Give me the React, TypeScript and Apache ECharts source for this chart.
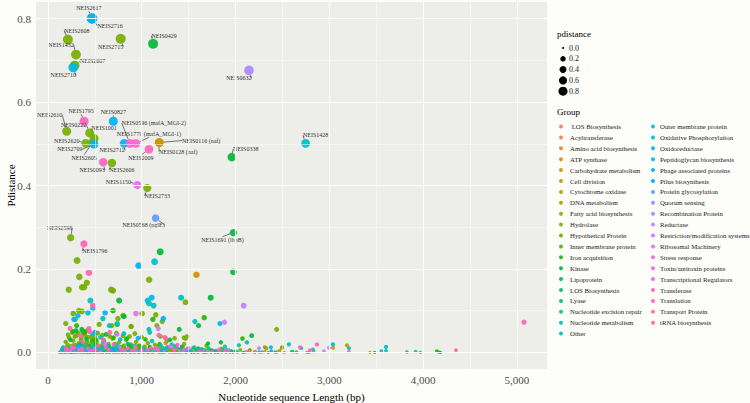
import React, { useEffect, useRef } from "react";
import * as echarts from "echarts";

// ---------- data ----------
const groups: string[] = [
  " LOS Biosynthesis", "Acyltransferase", "Amino acid biosynthesis", "ATP synthase",
  "Carbohydrate metabolism", "Cell division", "Cytochrome oxidase", "DNA metabolism",
  "Fatty acid biosynthesis", "Hydrolase", "Hypothetical Protein", "Inner membrane protein",
  "Iron acquisition", "Kinase", "Lipoprotein", "LOS Biosynthesis", "Lyase",
  "Nucleotide excision repair", "Nucleotide metabolism", "Other",
  "Outer membrane protein", "Oxidative Phosphorylation", "Oxidoreductase",
  "Peptidoglycan biosynthesis", "Phage associated proteins", "Pilus biosynthesis",
  "Protein glycosylation", "Quorum sensing", "Recombination Protein", "Reductase",
  "Restriction/modification systems", "Ribosomal Machinery", "Stress response",
  "Toxin/antitoxin proteins", "Transcriptional Regulators", "Transferase", "Translation",
  "Transport Protein", "tRNA biosynthesis",
];

const xTicks = [0, 1000, 2000, 3000, 4000, 5000];
const xMinor = [500, 1500, 2500, 3500, 4500];
const yTicks = [0, 0.2, 0.4, 0.6, 0.8];
const yMinor = [0.1, 0.3, 0.5, 0.7];
const sizeLegendValues = ["0.0", "0.2", "0.4", "0.6", "0.8"];

// [label, group, length, pdistance]
const labeledPoints: [string, number, number, number][] = [
  ["NEIS2716", 23, 471, 0.8],
  ["NEIS2617", 23, 469, 0.801],
  ["NEIS2608", 10, 213, 0.75],
  ["NEIS1432", 10, 299, 0.714],
  ["NEIS2607", 10, 285, 0.688],
  ["NEIS2710", 22, 270, 0.683],
  ["NEIS2715", 10, 776, 0.752],
  ["NEIS0429", 13, 1121, 0.74],
  ["NEIS0632", 28, 2143, 0.676],
  ["NEIS1795", 35, 386, 0.554],
  ["NEIS0827", 23, 697, 0.554],
  ["NEIS2610", 10, 200, 0.53],
  ["NEIS0222", 10, 445, 0.526],
  ["NEIS1001", 10, 493, 0.513],
  ["NEIS2620", 10, 403, 0.501],
  ["NEIS2605", 10, 482, 0.505],
  ["NEIS2709", 23, 490, 0.499],
  ["NEIS2712", 23, 813, 0.501],
  ["NEIS0596 (mafA_MGI-2)", 34, 874, 0.501],
  ["NEIS1779 (mafA_MGI-1)", 34, 938, 0.501],
  ["NEIS0116 (naf)", 5, 1186, 0.503],
  ["NEIS0128 (naf)", 5, 1187, 0.503],
  ["NEIS2009", 35, 1077, 0.487],
  ["NEIS0093", 35, 589, 0.456],
  ["NEIS2606", 10, 682, 0.454],
  ["NEIS1428", 20, 2747, 0.501],
  ["NEIS0338", 13, 1960, 0.468],
  ["NEIS1150", 31, 954, 0.401],
  ["NEIS2733", 10, 1059, 0.394],
  ["NEIS0568 (pglE)", 26, 1148, 0.322],
  ["NEIS1691 (lbpB)", 13, 1977, 0.287],
  ["NEIS2598", 10, 242, 0.275],
  ["NEIS1796", 35, 384, 0.26],
];

// [group, length, pdistance] – unlabelled points above the dense band
const midPoints: [number, number, number][] = [
  [10, 311, 0.22], [13, 1197, 0.241], [24, 967, 0.208], [20, 1137, 0.217], [4, 1583, 0.186],
  [13, 1977, 0.193], [36, 436, 0.191], [10, 335, 0.181], [10, 222, 0.15], [10, 364, 0.156],
  [10, 386, 0.156], [10, 415, 0.167], [10, 674, 0.15], [10, 694, 0.148], [10, 1079, 0.174],
  [13, 759, 0.124], [13, 1735, 0.131], [19, 453, 0.124], [20, 1063, 0.124], [22, 1106, 0.131],
  [19, 1078, 0.117], [19, 1127, 0.112], [19, 1420, 0.131], [10, 1467, 0.12], [29, 2087, 0.112],
  [36, 480, 0.112], [22, 480, 0.105], [10, 330, 0.1], [10, 364, 0.098], [12, 694, 0.1],
  [23, 610, 0.095], [10, 270, 0.093], [10, 290, 0.079], [22, 427, 0.095], [30, 938, 0.093],
  [10, 1004, 0.093], [10, 1150, 0.09], [19, 1567, 0.074], [22, 1834, 0.069], [30, 1882, 0.072],
  [12, 1666, 0.083], [13, 1606, 0.064], [10, 1219, 0.074], [24, 1230, 0.081], [12, 1119, 0.079],
  [10, 801, 0.088], [10, 889, 0.062], [30, 1176, 0.057], [13, 1400, 0.055], [10, 2438, 0.055],
  [13, 2172, 0.04], [10, 1450, 0.035], [10, 1467, 0.033], [12, 2074, 0.033], [36, 1255, 0.033],
  [19, 1085, 0.048], [10, 546, 0.067], [10, 190, 0.069], [36, 236, 0.057], [12, 306, 0.064],
  [19, 655, 0.064], [12, 738, 0.067], [19, 810, 0.045], [10, 927, 0.045], [36, 660, 0.048],
  [30, 738, 0.043], [22, 500, 0.048], [12, 394, 0.048], [22, 277, 0.079], [22, 320, 0.088],
  [19, 586, 0.081], [10, 682, 0.064], [10, 746, 0.081], [13, 810, 0.086], [19, 738, 0.069],
  [10, 885, 0.062], [19, 1077, 0.055], [10, 1162, 0.064], [36, 1183, 0.041], [36, 1247, 0.036],
  [10, 1482, 0.038], [10, 266, 0.05], [13, 362, 0.055], [10, 394, 0.05], [36, 437, 0.057],
  [10, 215, 0.042], [12, 262, 0.048], [10, 288, 0.038], [13, 300, 0.052], [10, 322, 0.046],
  [36, 345, 0.04], [10, 358, 0.034], [12, 372, 0.05], [10, 396, 0.041], [13, 410, 0.032],
  [10, 425, 0.053], [34, 448, 0.049], [10, 462, 0.037], [19, 475, 0.044], [10, 498, 0.039],
  [12, 515, 0.03], [10, 530, 0.046], [20, 560, 0.036], [10, 580, 0.041], [13, 620, 0.043],
  [10, 660, 0.038], [12, 700, 0.035], [10, 730, 0.046], [19, 770, 0.031], [10, 800, 0.04],
  [13, 840, 0.033], [10, 870, 0.038], [24, 960, 0.034], [10, 1000, 0.036], [12, 1040, 0.031],
  [10, 1200, 0.038], [13, 1300, 0.03], [10, 1350, 0.034], [36, 5075, 0.072],
];

// [group, length, pdistance] – dense band near zero
const bandPoints: [number, number, number][] = [
  [0, 233, 0.004], [0, 612, 0.002], [0, 1290, 0.008], [0, 1815, 0.001],
  [1, 540, 0.003], [1, 1120, 0.001], [1, 2310, 0.002],
  [2, 310, 0.006], [2, 865, 0.012], [2, 1255, 0.022], [2, 1702, 0.003], [2, 2105, 0.001],
  [3, 705, 0.004], [3, 1375, 0.002], [3, 2790, 0.001],
  [4, 455, 0.008], [4, 1010, 0.003], [4, 1640, 0.006], [4, 2330, 0.009], [4, 2835, 0.002], [4, 2760, 0.0],
  [5, 180, 0.002], [5, 950, 0.015], [5, 1535, 0.004], [5, 3040, 0.011], [5, 3188, 0.017], [5, 2440, 0.001],
  [6, 640, 0.005], [6, 1190, 0.009], [6, 2470, 0.004], [6, 3433, 0.0],
  [7, 285, 0.003], [7, 760, 0.001], [7, 1440, 0.013], [7, 1910, 0.002], [7, 2780, 0.0],
  [8, 390, 0.01], [8, 830, 0.007], [8, 1330, 0.003], [8, 2495, 0.012],
  [9, 210, 0.018], [9, 600, 0.004], [9, 1085, 0.011], [9, 1560, 0.001], [9, 2150, 0.005],
  [10, 140, 0.002], [10, 165, 0.01], [10, 190, 0.025], [10, 205, 0.005], [10, 225, 0.035],
  [10, 240, 0.015], [10, 255, 0.001], [10, 270, 0.028], [10, 280, 0.008], [10, 295, 0.018],
  [10, 305, 0.04], [10, 318, 0.004], [10, 330, 0.022], [10, 345, 0.012], [10, 352, 0.03],
  [10, 368, 0.002], [10, 380, 0.045], [10, 392, 0.016], [10, 405, 0.007], [10, 418, 0.026],
  [10, 430, 0.036], [10, 442, 0.01], [10, 455, 0.02], [10, 470, 0.003], [10, 488, 0.031],
  [10, 505, 0.012], [10, 520, 0.024], [10, 538, 0.006], [10, 556, 0.015], [10, 575, 0.002],
  [10, 598, 0.028], [10, 620, 0.01], [10, 645, 0.02], [10, 668, 0.004], [10, 690, 0.033],
  [10, 712, 0.013], [10, 735, 0.007], [10, 760, 0.024], [10, 785, 0.002], [10, 808, 0.016],
  [10, 835, 0.03], [10, 860, 0.006], [10, 885, 0.019], [10, 912, 0.003], [10, 940, 0.025],
  [10, 968, 0.01], [10, 995, 0.001], [10, 1030, 0.014], [10, 1065, 0.022], [10, 1100, 0.005],
  [10, 1140, 0.018], [10, 1180, 0.002], [10, 1225, 0.011], [10, 1268, 0.027], [10, 1310, 0.004],
  [10, 1355, 0.015], [10, 1400, 0.008], [10, 1452, 0.02], [10, 1505, 0.002], [10, 1560, 0.012],
  [10, 1620, 0.005], [10, 1690, 0.016], [10, 1760, 0.003], [10, 1850, 0.009], [10, 1940, 0.001],
  [10, 2050, 0.006], [10, 2210, 0.002], [10, 2650, 0.001], [10, 2153, 0.005], [10, 2313, 0.012],
  [10, 2495, 0.011],
  [11, 260, 0.012], [11, 520, 0.004], [11, 880, 0.009], [11, 1290, 0.002], [11, 1720, 0.007],
  [12, 200, 0.006], [12, 330, 0.017], [12, 470, 0.028], [12, 610, 0.003], [12, 780, 0.012],
  [12, 980, 0.005], [12, 1190, 0.02], [12, 1480, 0.002], [12, 1870, 0.006], [12, 4145, 0.003],
  [13, 240, 0.03], [13, 365, 0.008], [13, 500, 0.019], [13, 690, 0.002], [13, 905, 0.014],
  [13, 1160, 0.004], [13, 1340, 0.009], [13, 1706, 0.021], [13, 1844, 0.024], [13, 2600, 0.002],
  [13, 3483, 0.0], [13, 4165, 0.001], [13, 4185, 0.0],
  [14, 300, 0.002], [14, 580, 0.011], [14, 850, 0.02], [14, 1060, 0.001], [14, 1420, 0.006], [14, 2000, 0.003],
  [15, 410, 0.004], [15, 730, 0.009], [15, 1250, 0.003], [15, 1780, 0.001],
  [16, 350, 0.013], [16, 660, 0.001], [16, 1020, 0.007], [16, 1600, 0.01], [16, 2420, 0.001],
  [17, 230, 0.009], [17, 560, 0.003], [17, 920, 0.016], [17, 1380, 0.001], [17, 3827, 0.001],
  [18, 270, 0.001], [18, 480, 0.014], [18, 800, 0.005], [18, 1150, 0.01], [18, 1530, 0.002], [18, 2121, 0.024],
  [19, 150, 0.007], [19, 250, 0.002], [19, 380, 0.02], [19, 520, 0.009], [19, 650, 0.003],
  [19, 740, 0.018], [19, 870, 0.001], [19, 1000, 0.011], [19, 1110, 0.027], [19, 1230, 0.005],
  [19, 1365, 0.014], [19, 1490, 0.003], [19, 1640, 0.008], [19, 1887, 0.014], [19, 2036, 0.017],
  [19, 2377, 0.012], [19, 2569, 0.019], [19, 2700, 0.01], [19, 2825, 0.007], [19, 3038, 0.019],
  [19, 3209, 0.01], [19, 3554, 0.003], [19, 3604, 0.013], [19, 3604, 0.004], [19, 3920, 0.002], [19, 3970, 0.0],
  [20, 180, 0.004], [20, 320, 0.011], [20, 445, 0.001], [20, 590, 0.024], [20, 720, 0.006],
  [20, 955, 0.002], [20, 1205, 0.016], [20, 1470, 0.006], [20, 1950, 0.003], [20, 2250, 0.001],
  [21, 400, 0.006], [21, 970, 0.001], [21, 1600, 0.004],
  [22, 340, 0.005], [22, 630, 0.015], [22, 1040, 0.003], [22, 1320, 0.019], [22, 1800, 0.002],
  [23, 230, 0.001], [23, 560, 0.007], [23, 900, 0.002], [23, 1270, 0.012],
  [24, 170, 0.005], [24, 420, 0.013], [24, 760, 0.003], [24, 1090, 0.008], [24, 1680, 0.001],
  [25, 300, 0.002], [25, 690, 0.01], [25, 1210, 0.001], [25, 2380, 0.003],
  [26, 460, 0.004], [26, 1130, 0.002], [26, 1930, 0.005],
  [27, 820, 0.003], [27, 1560, 0.001],
  [28, 360, 0.009], [28, 990, 0.004], [28, 1700, 0.002], [28, 2250, 0.01],
  [29, 240, 0.003], [29, 770, 0.012], [29, 1450, 0.006], [29, 2942, 0.003], [29, 2996, 0.011],
  [30, 330, 0.006], [30, 610, 0.02], [30, 1180, 0.003], [30, 1500, 0.01], [30, 2120, 0.002],
  [31, 200, 0.001], [31, 500, 0.008], [31, 940, 0.002], [31, 1300, 0.014], [31, 1890, 0.004],
  [32, 440, 0.003], [32, 850, 0.01], [32, 1610, 0.002],
  [33, 280, 0.011], [33, 560, 0.001], [33, 1060, 0.006], [33, 1750, 0.002],
  [34, 190, 0.003], [34, 370, 0.025], [34, 650, 0.006], [34, 930, 0.013], [34, 1240, 0.002],
  [34, 1380, 0.018], [34, 2687, 0.012],
  [35, 250, 0.014], [35, 470, 0.004], [35, 700, 0.019], [35, 1010, 0.002], [35, 1340, 0.008],
  [35, 1830, 0.005], [35, 2793, 0.005], [35, 2868, 0.019],
  [36, 320, 0.002], [36, 590, 0.03], [36, 890, 0.004], [36, 1100, 0.01], [36, 1650, 0.001],
  [36, 3209, 0.002], [36, 4350, 0.005],
  [37, 210, 0.008], [37, 540, 0.016], [37, 820, 0.001], [37, 1170, 0.007], [37, 1920, 0.002],
  [38, 360, 0.001], [38, 780, 0.005], [38, 1400, 0.003], [38, 2200, 0.001],
  [19, 125, 0.0], [10, 132, 0.001], [35, 145, 0.0], [12, 158, 0.002], [20, 172, 0.0],
  [10, 185, 0.001], [36, 198, 0.0], [24, 215, 0.003], [10, 228, 0.0], [13, 246, 0.001],
  [19, 262, 0.0], [10, 276, 0.002], [34, 290, 0.0], [12, 305, 0.004], [22, 322, 0.0],
  [10, 338, 0.002], [20, 355, 0.0], [35, 372, 0.001], [10, 388, 0.0], [19, 402, 0.003],
  [13, 416, 0.0], [10, 432, 0.001], [24, 448, 0.0], [36, 462, 0.002], [10, 478, 0.0],
  [12, 494, 0.001], [19, 512, 0.0], [10, 530, 0.003], [34, 548, 0.0], [20, 566, 0.001],
  [10, 585, 0.0], [13, 604, 0.002], [35, 624, 0.0], [10, 642, 0.001], [19, 662, 0.0],
  [22, 682, 0.003], [10, 702, 0.0], [12, 722, 0.001], [36, 742, 0.0], [10, 764, 0.002],
  [20, 786, 0.0], [10, 810, 0.001], [19, 832, 0.0], [13, 856, 0.004], [10, 878, 0.0],
  [34, 902, 0.001], [24, 925, 0.0], [10, 948, 0.002], [19, 972, 0.0], [35, 996, 0.001],
  [10, 1022, 0.0], [12, 1048, 0.002], [20, 1075, 0.0], [10, 1102, 0.001], [36, 1128, 0.0],
  [19, 1155, 0.003], [10, 1182, 0.0], [13, 1210, 0.001], [22, 1238, 0.0], [10, 1266, 0.002],
  [34, 1295, 0.0], [19, 1325, 0.001], [10, 1352, 0.0], [12, 1382, 0.002], [20, 1410, 0.0],
  [35, 1440, 0.001], [10, 1470, 0.0], [19, 1502, 0.002], [24, 1532, 0.0], [10, 1565, 0.001],
  [13, 1598, 0.0], [36, 1630, 0.002], [19, 1665, 0.0], [10, 1700, 0.001], [20, 1738, 0.0],
  [12, 1775, 0.002], [19, 1812, 0.0], [10, 1850, 0.001], [34, 1895, 0.0], [22, 1930, 0.002],
  [10, 1975, 0.0], [19, 2020, 0.001], [13, 2080, 0.0], [35, 2140, 0.002], [10, 2200, 0.0],
  [20, 2280, 0.001], [19, 2350, 0.0], [36, 2520, 0.0], [19, 2610, 0.002],
  [10, 148, 0.006], [19, 162, 0.012], [12, 176, 0.003], [36, 188, 0.009], [10, 202, 0.014],
  [20, 218, 0.007], [13, 232, 0.011], [10, 248, 0.004], [34, 258, 0.009], [10, 268, 0.017],
  [19, 284, 0.006], [12, 298, 0.012], [10, 312, 0.009], [24, 326, 0.016], [10, 342, 0.005],
  [13, 358, 0.021], [35, 366, 0.007], [10, 376, 0.013], [20, 398, 0.005], [10, 412, 0.019],
  [36, 426, 0.009], [12, 438, 0.015], [10, 452, 0.006], [19, 466, 0.011], [13, 482, 0.007],
  [10, 496, 0.022], [34, 508, 0.005], [10, 526, 0.01], [20, 544, 0.014], [12, 562, 0.006],
  [10, 582, 0.018], [19, 600, 0.008], [36, 616, 0.012], [10, 634, 0.004], [13, 652, 0.015],
  [10, 672, 0.009], [22, 694, 0.006], [10, 716, 0.02], [19, 738, 0.01], [12, 752, 0.004],
  [10, 772, 0.013], [35, 792, 0.007], [10, 816, 0.011], [20, 842, 0.004], [13, 866, 0.017],
  [10, 894, 0.008], [19, 918, 0.013], [10, 944, 0.006], [12, 976, 0.016], [36, 1004, 0.006],
  [10, 1036, 0.009], [19, 1058, 0.004], [13, 1086, 0.013], [10, 1116, 0.007], [34, 1148, 0.011],
  [10, 1172, 0.015], [20, 1196, 0.006], [10, 1230, 0.004], [19, 1258, 0.009], [12, 1284, 0.012],
  [10, 1318, 0.007], [36, 1348, 0.004], [10, 1372, 0.011], [19, 1398, 0.006], [13, 1428, 0.014],
  [10, 1458, 0.005], [35, 1488, 0.009], [10, 1520, 0.004], [19, 1548, 0.011], [12, 1578, 0.006],
  [10, 1612, 0.008], [20, 1646, 0.003], [10, 1676, 0.006], [19, 1712, 0.01], [13, 1748, 0.005],
  [10, 1790, 0.004], [36, 1826, 0.007], [19, 1864, 0.004], [10, 1902, 0.006], [12, 1958, 0.003],
];

// ---------- styling helpers ----------
const FONT = "Liberation Serif";

function hcl(h: number, c: number, l: number): string {
  const rad = (h * Math.PI) / 180;
  const U = c * Math.cos(rad);
  const V = c * Math.sin(rad);
  const Xn = 95.047, Yn = 100, Zn = 108.883;
  const Y = l > 8 ? Yn * Math.pow((l + 16) / 116, 3) : (Yn * l) / 903.3;
  const t = Xn + 15 * Yn + 3 * Zn;
  const un = (4 * Xn) / t, vn = (9 * Yn) / t;
  const up = U / (13 * l) + un;
  const vp = V / (13 * l) + vn;
  const X = (9 * Y * up) / (4 * vp);
  const Z = -X / 3 - 5 * Y + (3 * Y) / vp;
  const x = X / 100, y = Y / 100, z = Z / 100;
  const lin = [
    3.240479 * x - 1.53715 * y - 0.498535 * z,
    -0.969256 * x + 1.875992 * y + 0.041556 * z,
    0.055648 * x - 0.204043 * y + 1.057311 * z,
  ];
  const hex = lin
    .map((v) => {
      const g = v <= 0.0031308 ? 12.92 * v : 1.055 * Math.pow(v, 1 / 2.4) - 0.055;
      const n = Math.round(Math.min(1, Math.max(0, g)) * 255);
      return n.toString(16).padStart(2, "0");
    })
    .join("");
  return "#" + hex;
}

const palette = groups.map((_, i) => hcl(15 + (360 * i) / groups.length, 100, 65));

const sizeOf = (v: number) => 3.2 + 7 * Math.sqrt(Math.max(v, 0) / 0.8);

const labelOffsets: Record<string, [number, number]> = {
  NEIS2617: [-3, -10], NEIS2716: [18, 7], NEIS2608: [9, -9], NEIS1432: [-15, -10],
  NEIS2607: [18, -4], NEIS2710: [-10, 8], NEIS2715: [-10, 8], NEIS0429: [11, -8],
  NEIS0632: [-10, 8], NEIS1795: [-3, -10], NEIS0827: [0, -9], NEIS2610: [-17, -16],
  NEIS0222: [-16, -8], NEIS1001: [10, -10], NEIS2620: [-19, -2], NEIS2709: [-24, 5],
  NEIS2605: [-9, 16], NEIS2712: [-12, 7], "NEIS0596 (mafA_MGI-2)": [24, -20],
  "NEIS1779 (mafA_MGI-1)": [13, -9], "NEIS0116 (naf)": [42, -2], "NEIS0128 (naf)": [19, 9],
  NEIS2009: [-8, 9], NEIS0093: [-11, 8], NEIS2606: [10, 7], NEIS1428: [10, -8],
  NEIS0338: [14, -8], NEIS1150: [-19, -3], NEIS2733: [10, 8], "NEIS0568 (pglE)": [-12, 7],
  "NEIS1691 (lbpB)": [-11, 7], NEIS2598: [-11, -10], NEIS1796: [11, 7],
};

export default function App() {
  const ref = useRef<HTMLDivElement>(null);

  useEffect(() => {
    if (!ref.current) return;
    document.body.style.margin = "0";
    const chart = echarts.init(ref.current, null, { renderer: "svg" });

    const groupSeries = groups.map((name, gi) => {
      const data: any[] = [];
      bandPoints.filter((p) => p[0] === gi).forEach((p) => data.push({ value: [p[1], p[2]] }));
      midPoints.filter((p) => p[0] === gi).forEach((p) => data.push({ value: [p[1], p[2]] }));
      labeledPoints
        .filter((p) => p[1] === gi)
        .forEach((p) => data.push({ name: p[0], value: [p[2], p[3]], label: { show: true } }));
      return {
        type: "scatter",
        name,
        z: 3,
        data,
        symbolSize: (val: number[]) => sizeOf(val[1]),
        itemStyle: { color: palette[gi], opacity: 0.92 },
        emphasis: { disabled: true },
        label: {
          show: false,
          position: "inside",
          formatter: "{b}",
          fontSize: 6,
          fontFamily: FONT,
          color: "#111",
        },
        labelLine: { show: true, lineStyle: { color: "#222", width: 0.6 } },
        labelLayout: (params: any) => {
          const off = labelOffsets[params.text];
          if (!off) return {};
          return { dx: off[0], dy: off[1] };
        },
      };
    });

    const gridLines = [
      ...xTicks.map((v) => ({ xAxis: v, lineStyle: { width: 1.1 } })),
      ...xMinor.map((v) => ({ xAxis: v, lineStyle: { width: 0.5 } })),
      ...yTicks.map((v) => ({ yAxis: v, lineStyle: { width: 1.1 } })),
      ...yMinor.map((v) => ({ yAxis: v, lineStyle: { width: 0.5 } })),
    ];

    const sizeGraphics: any[] = [
      { type: "text", left: 557, top: 29, style: { text: "pdistance", font: `9px ${FONT}`, fill: "#000" } },
      { type: "text", left: 557, top: 107, style: { text: "Group", font: `9px ${FONT}`, fill: "#000" } },
    ];
    sizeLegendValues.forEach((s, i) => {
      const cy = 48 + i * 10.8;
      const r = i === 0 ? 1 : sizeOf(parseFloat(s)) / 2 - 0.6;
      sizeGraphics.push({ type: "circle", shape: { cx: 563, cy, r }, style: { fill: "#000" } });
      sizeGraphics.push({
        type: "text",
        x: 569,
        y: cy,
        style: { text: s, font: `8px ${FONT}`, fill: "#1a1a1a", textVerticalAlign: "middle" },
      });
    });

    const legendBase = {
      orient: "vertical",
      icon: "circle",
      itemHeight: 4,
      itemGap: 1.9,
      selectedMode: false,
      padding: 0,
      textStyle: { fontSize: 6.8, fontFamily: FONT, color: "#1a1a1a", lineHeight: 9 },
    };

    chart.setOption({
      animation: false,
      backgroundColor: "#FDFDFA",
      textStyle: { fontFamily: FONT },
      grid: {
        left: 36,
        right: 203,
        top: 2,
        bottom: 34,
        show: true,
        backgroundColor: "#EDEDE9",
        borderWidth: 0,
        outerBoundsMode: "none",
      },
      legend: [
        { ...legendBase, left: 559, top: 122, itemWidth: 8, data: groups.slice(0, 20) },
        { ...legendBase, left: 651, top: 122, itemWidth: 4, data: groups.slice(20) },
      ],
      xAxis: {
        type: "value",
        min: -127,
        max: 5320,
        axisLine: { show: false },
        axisTick: { show: true, customValues: xTicks, length: 3, lineStyle: { color: "#333", width: 0.6 } },
        axisLabel: {
          customValues: xTicks,
          color: "#4D4D4D",
          fontSize: 11,
          fontFamily: FONT,
          margin: 5,
        },
        splitLine: { show: false },
        name: "Nucleotide sequence Length (bp)",
        nameLocation: "middle",
        nameGap: 22,
        nameTextStyle: { color: "#000", fontSize: 11, fontFamily: FONT },
      },
      yAxis: {
        type: "value",
        min: -0.04,
        max: 0.84,
        axisLine: { show: false },
        axisTick: { show: true, customValues: yTicks, length: 3, lineStyle: { color: "#333", width: 0.6 } },
        axisLabel: {
          customValues: yTicks,
          color: "#4D4D4D",
          fontSize: 11,
          fontFamily: FONT,
          margin: 5,
          formatter: (v: number) => v.toFixed(1),
        },
        splitLine: { show: false },
        name: "Pdistance",
        nameLocation: "middle",
        nameGap: 20,
        nameMoveOverlap: false,
        nameTextStyle: { color: "#000", fontSize: 11, fontFamily: FONT },
      },
      graphic: sizeGraphics,
      series: [
        {
          type: "scatter",
          name: "__grid",
          data: [],
          z: 1,
          silent: true,
          markLine: {
            silent: true,
            symbol: ["none", "none"],
            label: { show: false },
            lineStyle: { color: "#FFFFFF", type: "solid" },
            emphasis: { disabled: true },
            data: gridLines,
          },
        },
        ...groupSeries,
      ],
    });

    return () => chart.dispose();
  }, []);

  return <div ref={ref} style={{ position: "absolute", left: 0, top: 0, width: 750, height: 403 }} />;
}
